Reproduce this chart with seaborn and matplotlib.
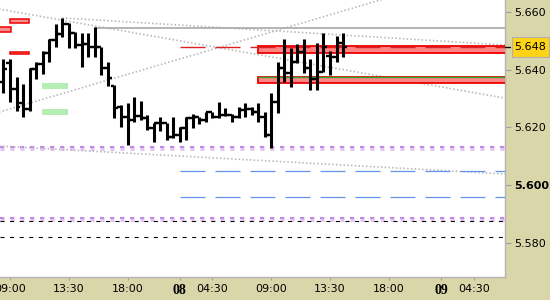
import matplotlib
matplotlib.use("Agg")
import matplotlib.pyplot as plt
import matplotlib.patches as mpatches
import matplotlib.transforms as mtransforms
import pandas as pd
import seaborn as sns

# ---------------- data ----------------
bar_index = list(range(-1, 52))
opens = [5.6357, 5.6423, 5.6333, 5.6284, 5.6264, 5.6402, 5.6420, 5.6458, 5.6503, 5.6524,
         5.6558, 5.6527, 5.6486, 5.6489, 5.6479, 5.6479, 5.6406, 5.6343, 5.6271, 5.6236,
         5.6226, 5.6239, 5.6232, 5.6198, 5.6215, 5.6215, 5.6167, 5.6174, 5.6198, 5.6232,
         5.6236, 5.6226, 5.6253, 5.6236, 5.6243, 5.6243, 5.6236, 5.6260, 5.6264, 5.6253,
         5.6236, 5.6174, 5.6288, 5.6406, 5.6388, 5.6427, 5.6461, 5.6406, 5.6368, 5.6392,
         5.6447, 5.6444, 5.6493]
highs = [5.6437, 5.6437, 5.6375, 5.6350, 5.6406, 5.6427, 5.6465, 5.6506, 5.6558, 5.6579,
         5.6562, 5.6531, 5.6527, 5.6527, 5.6548, 5.6479, 5.6427, 5.6347, 5.6278, 5.6284,
         5.6305, 5.6291, 5.6243, 5.6215, 5.6236, 5.6215, 5.6236, 5.6201, 5.6236, 5.6246,
         5.6236, 5.6253, 5.6253, 5.6288, 5.6267, 5.6246, 5.6271, 5.6284, 5.6271, 5.6284,
         5.6253, 5.6319, 5.6427, 5.6506, 5.6475, 5.6489, 5.6506, 5.6437, 5.6493, 5.6527,
         5.6465, 5.6517, 5.6527]
lows = [5.6319, 5.6288, 5.6257, 5.6236, 5.6257, 5.6368, 5.6385, 5.6427, 5.6479, 5.6513,
        5.6475, 5.6475, 5.6409, 5.6444, 5.6444, 5.6382, 5.6343, 5.6232, 5.6201, 5.6139,
        5.6219, 5.6226, 5.6191, 5.6149, 5.6187, 5.6156, 5.6163, 5.6149, 5.6156, 5.6198,
        5.6212, 5.6219, 5.6232, 5.6232, 5.6239, 5.6219, 5.6232, 5.6236, 5.6243, 5.6219,
        5.6167, 5.6130, 5.6250, 5.6357, 5.6340, 5.6423, 5.6388, 5.6330, 5.6330, 5.6392,
        5.6382, 5.6427, 5.6444]
closes = [5.6402, 5.6333, 5.6271, 5.6264, 5.6402, 5.6420, 5.6458, 5.6503, 5.6524, 5.6558,
          5.6527, 5.6486, 5.6489, 5.6479, 5.6479, 5.6406, 5.6371, 5.6267, 5.6236, 5.6226,
          5.6239, 5.6232, 5.6198, 5.6215, 5.6215, 5.6167, 5.6174, 5.6198, 5.6232, 5.6236,
          5.6226, 5.6253, 5.6236, 5.6243, 5.6243, 5.6236, 5.6260, 5.6264, 5.6253, 5.6236,
          5.6174, 5.6288, 5.6406, 5.6388, 5.6427, 5.6461, 5.6406, 5.6368, 5.6392, 5.6479,
          5.6444, 5.6493, 5.6479]

x_tick_positions = [0, 9, 18, 26, 31, 40, 49, 58, 66, 71]
x_tick_labels = ["09:00", "13:30", "18:00", "08", "04:30", "09:00", "13:30", "18:00", "09", "04:30"]
day_labels = ["08", "09"]

price_ticks = [5.660, 5.640, 5.620, 5.600, 5.580]
price_tick_labels = ["5.660", "5.640", "5.620", "5.600", "5.580"]
bold_price_label = "5.600"
last_price = 5.648
last_price_label = "5.648"

# horizontal levels
resistance_level, resistance_start = 5.6545, 13
red_dash_level = 5.6479
blue_dash_levels = [5.6049, 5.5959]
dash_start = 26
purple_levels = [5.6130, 5.5882]
black_dash_levels = [5.5875, 5.5819]

# dotted trend lines (start/end bar index and price)
trend_x = [[-2, 60], [-2, 78], [8, 78], [-2, 78]]
trend_y = [[5.6251, 5.6664], [5.6612, 5.6293], [5.6580, 5.6483], [5.6136, 5.6036]]

# zones
right_zone_start = 38
right_zone_bottoms = [5.6459, 5.6353]
right_zone_tops = [5.6483, 5.6374]
green_edge_level = 5.6375
left_red_x = [[0, 2.9], [-2, 0.15], [0, 2.9]]
left_red_y = [[5.6562, 5.6576], [5.6531, 5.6548], [5.6454, 5.6461]]
green_x = [4.9, 8.9]
green_y = [[5.6333, 5.6354], [5.6243, 5.6264]]

XMIN, XMAX = -1.53, 75.8
YMIN, YMAX = 5.56815, 5.6642

# ---------------- styling ----------------
sns.set_theme(style="white")
plt.rcParams["font.family"] = ["DejaVu Sans"]
plt.rcParams["lines.scale_dashes"] = False

W, H = 550, 300
fig = plt.figure(figsize=(W / 100, H / 100), dpi=100)
fig.patch.set_facecolor("#d9d6aa")
ax = fig.add_axes([0, 23 / H, 505 / W, 277 / H])
ax.set_facecolor("white")

# purple dotted levels (thick light band with darker core)
for lv in purple_levels:
    ax.axhline(lv, color="#e2c6f5", lw=3.6, linestyle=(0, (2.9, 4.3)), zorder=2)
    ax.axhline(lv + 0.0003, color="#c08ae6", lw=1.5, linestyle=(0, (2.9, 4.3)), zorder=2)

# black dashed levels
for lv in black_dash_levels:
    ax.axhline(lv, color="black", lw=0.8, linestyle=(0, (2.9, 4.0)), zorder=3)

# blue dashed levels
for lv in blue_dash_levels:
    ax.hlines(lv, dash_start, XMAX + 1, color="#6495ed", lw=0.9,
              linestyle=(0, (18, 7.2)), zorder=3)

# dotted trend lines via seaborn
for tx, ty in zip(trend_x, trend_y):
    df = pd.DataFrame({"x": tx, "y": ty})
    sns.lineplot(data=df, x="x", y="y", ax=ax, color="#b9b9b9", lw=1.2,
                 linestyle=(0, (1.1, 1.6)), zorder=2)

# resistance gray line
ax.hlines(resistance_level, resistance_start, XMAX + 1, color="#a8a8a8", lw=1.2, zorder=3)

# right zones
for b, t in zip(right_zone_bottoms, right_zone_tops):
    ax.add_patch(mpatches.Rectangle((right_zone_start, b), XMAX + 2 - right_zone_start, t - b,
                                    facecolor="#ff8585", edgecolor="#ee0000", lw=1.3, zorder=3))
ax.hlines(green_edge_level, right_zone_start, XMAX + 1, color="#2ea82e", lw=1.0, zorder=3)

# red dashed level
ax.hlines(red_dash_level, dash_start, XMAX + 1, color="#dd2020", lw=1.0,
          linestyle=(0, (18, 7.2)), zorder=3)

# left red rects
for (x0, x1), (y0, y1) in zip(left_red_x, left_red_y):
    ax.add_patch(mpatches.Rectangle((x0, y0), x1 - x0, y1 - y0,
                                    facecolor="#f59090", edgecolor="#ee0000", lw=1.1, zorder=3))
# green rects
for (y0, y1) in green_y:
    ax.add_patch(mpatches.Rectangle((green_x[0], y0), green_x[1] - green_x[0], y1 - y0,
                                    facecolor="#b6ecb6", edgecolor="none", zorder=3))

# OHLC bars
ax.vlines(bar_index, lows, highs, color="black", lw=2.2, zorder=5)
ax.hlines(opens, [i - 0.6 for i in bar_index], bar_index, color="black", lw=1.7, zorder=5)
ax.hlines(closes, bar_index, [i + 0.6 for i in bar_index], color="black", lw=1.7, zorder=5)

ax.set_xlim(XMIN, XMAX)
ax.set_ylim(YMIN, YMAX)
ax.set_xlabel("")
ax.set_ylabel("")

# axes decoration
for s in ["left", "top"]:
    ax.spines[s].set_visible(False)
for s in ["right", "bottom"]:
    ax.spines[s].set_visible(True)
    ax.spines[s].set_color("#b4b4b4")
    ax.spines[s].set_linewidth(1.0)

ax.yaxis.tick_right()
ax.set_yticks(price_ticks)
ax.set_yticklabels(price_tick_labels)
ax.tick_params(axis="y", direction="out", length=4, width=0.8, color="#a0a0a0",
               pad=2.5, labelsize=8, labelcolor="black", left=False, right=True)
for lab in ax.get_yticklabels():
    if lab.get_text() == bold_price_label:
        lab.set_fontweight("bold")

ax.set_xticks(x_tick_positions)
ax.set_xticklabels(x_tick_labels)
ax.tick_params(axis="x", direction="out", length=2.5, width=0.8, color="#a0a0a0",
               pad=2.5, labelsize=8, labelcolor="black", bottom=True)
for lab in ax.get_xticklabels():
    if lab.get_text() in day_labels:
        lab.set_fontfamily("Liberation Serif")
        lab.set_fontweight("bold")
        lab.set_fontsize(10)

# last price marker
blend = mtransforms.blended_transform_factory(fig.transFigure, ax.transData)
box_h = 20 / 2884
ax.add_patch(mpatches.Rectangle((512 / W, last_price - box_h / 2), 37 / W, box_h,
                                transform=blend, facecolor="#ffd416", edgecolor="#b0b0b0",
                                lw=0.8, clip_on=False, zorder=6))
ax.plot([505 / W, 510 / W], [last_price, last_price], transform=blend, color="black",
        lw=1.0, clip_on=False, zorder=6)
ax.text(530.5 / W, last_price, last_price_label, transform=blend, ha="center", va="center",
        fontsize=8, color="black", zorder=7, clip_on=False)

fig.savefig("out.png", dpi=100, facecolor=fig.get_facecolor())
